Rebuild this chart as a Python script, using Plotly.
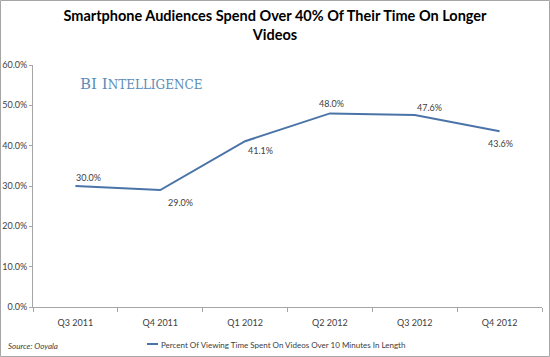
import plotly.graph_objects as go

categories = ["Q3 2011", "Q4 2011", "Q1 2012", "Q2 2012", "Q3 2012", "Q4 2012"]
values = [30.0, 29.0, 41.1, 48.0, 47.6, 43.6]
series_name = "Percent Of Viewing Time Spent On Videos Over 10 Minutes In Length"
y_ticks = [0, 10, 20, 30, 40, 50, 60]
y_tick_labels = ["0.0%", "10.0%", "20.0%", "30.0%", "40.0%", "50.0%", "60.0%"]

# label offsets (style only, in pixels)
label_dx = [13, 20, 15, 2, 15, 1]
label_dy = [9, -12, -9, 10, 8, -12]

W, H = 550, 357
ML, MR, MT, MB = 33, 8, 65, 50
PW, PH = W - ML - MR, H - MT - MB
LINE_COLOR = "#4A74A8"
TXT = "#404040"

def px_x(x):
    return (x - ML) / PW

def px_y(y):
    return (H - MB - y) / PH

fig = go.Figure()
fig.add_trace(go.Scatter(
    x=categories, y=values, mode="lines",
    line=dict(color=LINE_COLOR, width=2),
    name=series_name, showlegend=False,
))

annotations = []
for c, v, dx, dy in zip(categories, values, label_dx, label_dy):
    annotations.append(dict(
        x=c, y=v, xref="x", yref="y", text=f"{v:.1f}%", showarrow=False,
        xanchor="center", yanchor="middle", xshift=dx, yshift=dy,
        font=dict(family="Lato", size=9, color=TXT),
    ))

annotations += [
    dict(text="<i>Source: Ooyala</i>", xref="paper", yref="paper",
         x=px_x(6), y=px_y(346), xanchor="left", yanchor="middle",
         showarrow=False, font=dict(family="Lato", size=8, color=TXT)),
    dict(text="BI I<span style='font-size:12px'>NTELLIGENCE</span>",
         xref="paper", yref="paper",
         x=px_x(78), y=px_y(84), xanchor="left", yanchor="middle",
         showarrow=False,
         font=dict(family="DejaVu Serif", size=15, color="#5B8DB8")),
    dict(text=series_name, xref="paper", yref="paper",
         x=px_x(159), y=px_y(345), xanchor="left", yanchor="middle",
         showarrow=False, font=dict(family="Lato", size=8, color=TXT)),
]

fig.update_layout(
    width=W, height=H,
    margin=dict(l=ML, r=MR, t=MT, b=MB, autoexpand=False),
    paper_bgcolor="white", plot_bgcolor="white",
    title=dict(
        text="<b>Smartphone Audiences Spend Over 40% Of Their Time On Longer<br>Videos</b>",
        x=px_x(275), xref="paper", xanchor="center",
        y=1 - 21 / H, yanchor="middle",
        font=dict(family="Lato", size=14.5, color="#000000"),
    ),
    xaxis=dict(
        type="category", range=[-0.5, 5.5], automargin=False,
        showline=True, linecolor="#A6A6A6", linewidth=1,
        ticks="outside", ticklen=4, tickcolor="#A6A6A6", tickson="boundaries",
        ticklabelstandoff=7,
        showgrid=False, zeroline=False,
        tickfont=dict(family="Lato", size=9, color=TXT),
    ),
    yaxis=dict(
        range=[0, 60], tickvals=y_ticks, ticktext=y_tick_labels, automargin=False,
        showline=True, linecolor="#A6A6A6", linewidth=1,
        ticks="outside", ticklen=3, tickcolor="#A6A6A6",
        showgrid=False, zeroline=False,
        tickfont=dict(family="Lato", size=9, color=TXT),
    ),
    showlegend=False,
    annotations=annotations,
    shapes=[
        dict(type="rect", xref="paper", yref="paper",
             x0=px_x(0.5), x1=px_x(549.5), y0=px_y(356.5), y1=px_y(0.5),
             line=dict(color="#A6A6A6", width=1)),
        dict(type="line", xref="paper", yref="paper",
             x0=px_x(147), x1=px_x(158), y0=px_y(344), y1=px_y(344),
             line=dict(color=LINE_COLOR, width=2)),
    ],
)

fig.write_html(
    "out.html",
    config={"displayModeBar": False},
    post_script="document.body.style.margin='0';document.body.style.overflow='hidden';",
)
